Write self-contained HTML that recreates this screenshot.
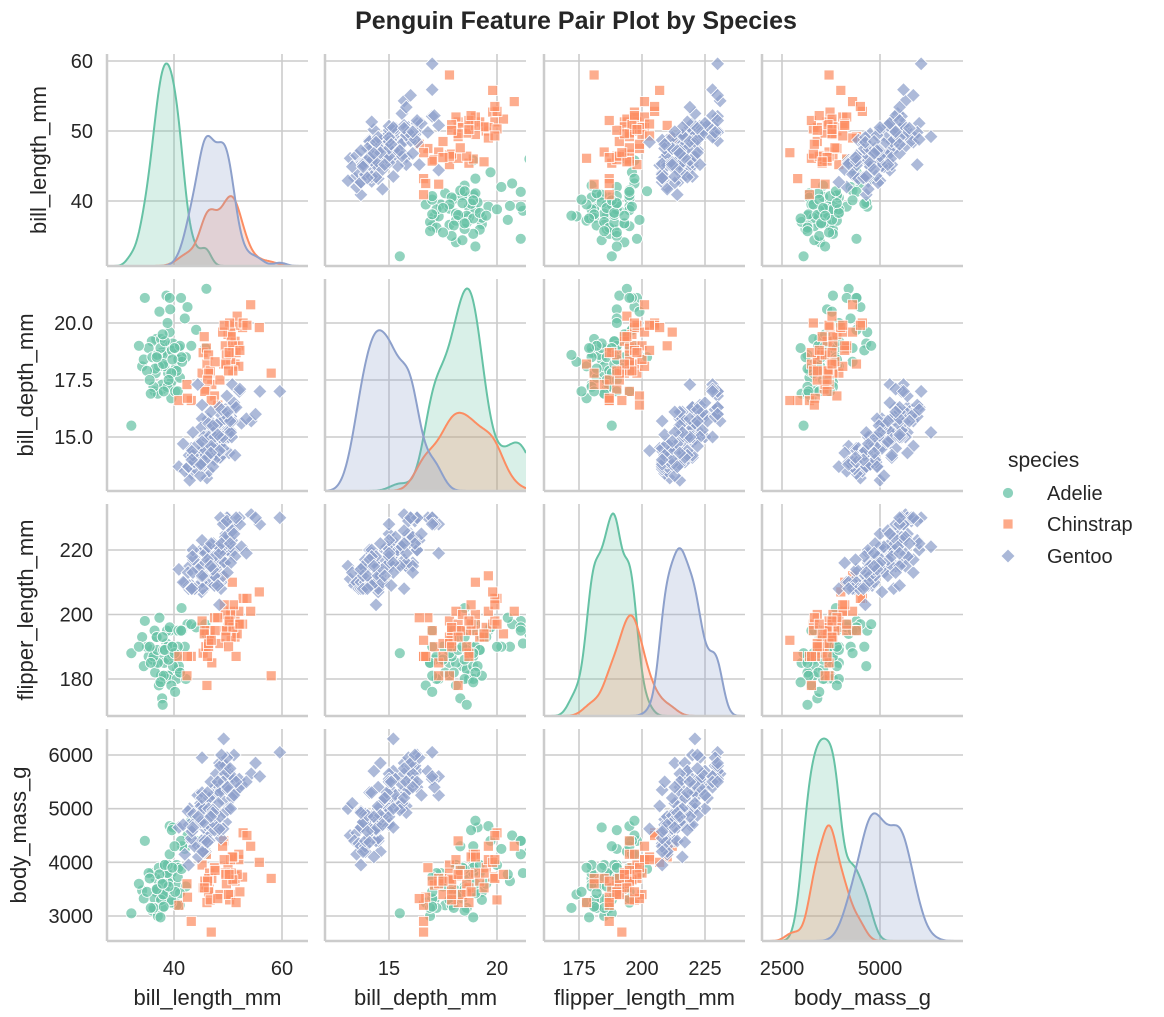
<!DOCTYPE html>
<html><head><meta charset="utf-8"><style>
body{margin:0;background:#fff}
svg{display:block;font-family:"Liberation Sans",sans-serif;fill:#262626}
</style></head><body>
<svg id="chart" width="1164" height="1017" viewBox="0 0 1164 1017" xmlns="http://www.w3.org/2000/svg">
<text x="576" y="29" text-anchor="middle" font-size="25" font-weight="bold">Penguin Feature Pair Plot by Species</text>
<g id="panels"></g>
<g>
<text x="1008" y="467" font-size="21">species</text>
<g><circle cx="1008" cy="493" r="5.5" fill="#66c2a5" fill-opacity="0.75" stroke="#fff" stroke-width="0.8"/><text x="1047" y="500" font-size="20">Adelie</text></g>
<g><rect x="1003" y="519" width="10" height="10" fill="#fc8d62" fill-opacity="0.75" stroke="#fff" stroke-width="0.8"/><text x="1047" y="531" font-size="20">Chinstrap</text></g>
<g><polygon points="1008,549 1015,556 1008,563 1001,556" fill="#8da0cb" fill-opacity="0.75" stroke="#fff" stroke-width="0.8"/><text x="1047" y="563" font-size="20">Gentoo</text></g>
</g>
</svg>
<script>
const variables = ["bill_length_mm","bill_depth_mm","flipper_length_mm","body_mass_g"];
const species = ["Adelie","Chinstrap","Gentoo"];
const speciesCounts = [151,68,123];
const speciesColors = ["#66c2a5","#fc8d62","#8da0cb"];
const tickBL = [40,50,60], tickBLx=[40,60];
const tickBD = [15.0,17.5,20.0], tickBDx=[15,20];
const tickFL = [180,200,220], tickFLx=[175,200,225];
const tickBM = [3000,4000,5000,6000], tickBMx=[2500,5000];
const adelie = [[39.1,18.7,181,3750],[39.5,17.4,186,3800],[40.3,18.0,195,3250],[36.7,19.3,193,3450],[39.3,20.6,190,3650],[38.9,17.8,181,3625],[39.2,19.6,195,4675],[34.1,18.1,193,3475],[42.0,20.2,190,4250],[37.8,17.1,186,3300],[37.8,17.3,180,3700],[41.1,17.6,182,3200],[38.6,21.2,191,3800],[34.6,21.1,198,4400],[36.6,17.8,185,3700],[38.7,19.0,195,3450],[42.5,20.7,197,4500],[34.4,18.4,184,3325],[46.0,21.5,194,4200],[37.8,18.3,174,3400],[37.7,18.7,180,3600],[35.9,19.2,189,3800],[38.2,18.1,185,3950],[38.8,17.2,180,3800],[35.3,18.9,187,3800],[40.6,18.6,183,3550],[40.5,17.9,187,3200],[37.9,18.6,172,3150],[40.5,18.9,180,3950],[39.5,16.7,178,3250],[37.2,18.1,178,3900],[39.5,17.8,188,3300],[40.9,18.9,184,3900],[36.4,17.0,195,3325],[39.2,21.1,196,4150],[38.8,20.0,190,3950],[42.2,18.5,180,3550],[37.6,19.3,181,3300],[39.8,19.1,184,4650],[36.5,18.0,182,3150],[40.8,18.4,195,3900],[36.0,18.5,186,3100],[44.1,19.7,196,4400],[37.0,16.9,185,3000],[39.6,18.8,190,4600],[41.1,19.0,182,3425],[36.2,17.2,187,3150],[40.2,17.0,176,3450],[35.0,17.9,190,3450],[41.5,18.3,195,4300],[32.1,15.5,188,3050],[33.5,19.0,190,3600],[43.2,19.0,197,4775],[35.7,16.9,185,3150],[41.3,21.1,195,4400],[45.8,18.9,197,4150],[38.1,17.0,181,3175],[37.3,20.5,199,3775],[36.9,18.6,189,3500],[40.7,17.0,190,3725],[38.0,18.2,189,3400],[39.0,17.5,186,3550],[37.5,18.9,179,2975],[41.4,18.5,202,3875],[36.8,18.5,193,3500],[38.3,19.2,189,3950],[40.1,18.9,188,4300],[35.5,17.5,190,3700],[39.7,18.4,190,3900],[37.9,19.5,193,3600]];
const chinstrap = [[46.5,17.9,192,3500],[50.0,19.5,196,3900],[51.3,19.2,193,3650],[45.4,18.7,188,3525],[52.7,19.8,197,3725],[45.2,17.8,198,3950],[46.1,18.2,178,3250],[51.3,18.2,197,3750],[46.0,18.9,195,4150],[51.3,19.9,198,3700],[46.6,17.8,193,3800],[51.7,20.3,194,3775],[47.0,17.3,185,3700],[52.0,18.1,201,4050],[45.9,17.1,190,3575],[50.5,19.6,201,4050],[50.3,20.0,197,3300],[58.0,17.8,181,3700],[46.4,18.6,190,3450],[49.2,18.2,195,4400],[42.4,17.3,181,3600],[48.5,17.5,191,3400],[43.2,16.6,187,2900],[50.6,19.4,193,3800],[46.7,17.9,195,3300],[52.0,19.0,197,4150],[50.5,18.4,200,3400],[49.5,19.0,200,3800],[46.4,17.8,191,3700],[52.8,20.0,205,4550],[40.9,16.6,187,3200],[54.2,20.8,201,4300],[42.5,16.7,187,3350],[51.0,18.8,203,4100],[49.7,18.6,195,3600],[47.5,16.8,199,3900],[47.6,18.3,195,3850],[50.9,17.9,196,3675],[49.0,19.6,212,4300],[45.7,17.0,195,3650],[50.8,19.0,210,4100],[53.5,19.9,205,4500],[49.6,18.2,193,3775],[48.1,16.4,199,3325],[46.2,17.5,187,3650],[45.6,19.4,194,3525],[50.1,17.9,190,3400],[51.5,18.7,187,3250],[55.8,19.8,207,4000],[52.2,18.8,197,3450],[49.3,19.9,203,4050],[50.2,18.7,198,3775],[46.9,16.6,192,2700]];
const gentoo = [[46.1,13.2,211,4500],[50.0,16.3,230,5700],[48.7,14.1,210,4450],[50.0,15.2,218,5700],[47.6,14.5,215,5400],[46.5,13.5,210,4550],[45.4,14.6,211,4800],[46.7,15.3,219,5200],[43.3,13.4,209,4400],[46.8,15.4,215,5150],[40.9,13.7,214,4650],[49.0,16.1,216,5550],[45.5,13.7,214,4650],[48.4,14.6,213,5850],[45.8,14.6,210,4200],[49.3,15.7,217,5850],[42.0,13.5,210,4150],[49.2,15.2,221,6300],[46.2,14.5,209,4800],[48.7,15.1,222,5350],[50.2,14.3,218,5700],[45.1,14.5,215,5000],[46.5,14.5,213,4400],[46.3,15.8,215,5050],[42.9,13.1,215,5000],[46.1,15.1,215,5100],[44.5,14.3,216,4100],[47.8,15.0,215,5650],[48.2,14.3,210,4600],[50.0,15.3,220,5550],[47.3,15.3,222,5250],[42.8,14.2,209,4700],[45.1,14.5,207,5050],[59.6,17.0,230,6050],[49.1,14.8,220,5150],[48.4,16.3,220,5400],[42.6,13.7,213,4950],[44.4,17.3,219,5250],[44.0,13.6,208,4350],[48.7,15.7,208,5350],[42.7,13.7,208,3950],[49.6,16.0,225,5700],[45.3,13.7,210,4300],[49.6,15.0,216,4750],[50.5,15.9,222,5550],[43.6,13.9,217,4900],[45.5,13.9,210,4200],[50.5,15.9,225,5400],[44.9,13.3,213,5100],[45.2,15.8,215,5300],[46.6,14.2,210,4850],[48.5,14.1,220,5300],[45.1,14.4,210,4400],[50.1,15.0,225,5000],[46.5,14.8,217,5200],[45.0,15.4,220,5050],[43.8,13.9,208,4300],[45.5,15.0,220,5000],[43.2,14.5,208,4450],[50.4,15.3,224,5550],[45.3,13.8,208,4200],[46.2,14.9,221,5300],[45.7,13.9,214,4400],[54.3,15.7,231,5650],[45.8,14.2,219,4700],[49.8,16.8,230,5700],[49.5,16.2,229,5800],[43.5,14.2,220,4700],[50.7,15.0,223,5550],[47.7,15.0,216,4750],[46.4,15.6,221,5000],[48.2,15.6,221,5100],[46.4,15.0,216,4700],[48.6,16.0,230,5800],[47.5,14.2,209,4600],[51.1,16.3,220,6000],[45.2,13.8,215,4750],[45.2,16.4,223,5950],[49.1,14.5,212,4625],[52.5,15.6,221,5450],[47.4,14.6,212,4725],[50.0,15.9,224,5350],[44.9,13.8,212,4750],[50.8,17.3,228,5600],[43.4,14.4,218,4600],[51.3,14.2,218,5300],[47.5,14.0,212,4875],[52.1,17.0,230,5550],[47.5,15.0,218,4950],[52.2,17.1,228,5400],[45.5,14.5,212,4750],[49.5,16.1,224,5650],[44.5,14.7,214,4850],[50.8,15.7,226,5200],[49.4,15.8,216,4925],[46.9,14.6,222,4875],[48.4,14.4,203,4625],[51.1,16.5,225,5250],[48.5,15.0,219,4850],[55.9,17.0,228,5600],[47.2,15.5,215,4975],[49.1,15.0,228,5500],[46.8,16.1,215,5500],[41.7,14.7,210,4700],[53.4,15.8,219,5500],[43.3,14.0,208,4575],[48.1,15.1,209,5500],[50.5,15.2,216,5000],[49.8,15.9,229,5950],[43.5,15.2,213,4650],[51.5,16.3,230,5500],[46.2,14.1,217,4375],[55.1,16.0,230,5850],[48.8,16.2,222,6000],[47.2,13.7,214,4925],[46.8,14.3,215,4850],[50.4,15.7,222,5750],[45.2,14.8,212,5200],[49.9,16.1,213,5400]];

const groups=[adelie,chinstrap,gentoo];
const NS="http://www.w3.org/2000/svg";
const colL=[107,325,544,762], W=201;
const rowT=[54,279,504,729], H=212;
const xCal=[[40,174,60,282],[15,389,20,497],[175,579,225,705],[2500,782,5000,880]];
const yCal=[[40,201,60,61],[15,437,20,323],[180,679,220,550],[3000,916,6000,755]];
const xTicks=[tickBLx,tickBDx,tickFLx,tickBMx];
const yTicks=[tickBL,tickBD,tickFL,tickBM];
const yFmt=[v=>v,v=>v.toFixed(1),v=>v,v=>v];
function sx(i,v){const c=xCal[i];return c[1]+(v-c[0])*(c[3]-c[1])/(c[2]-c[0]);}
function sy(i,v){const c=yCal[i];return c[1]+(v-c[0])*(c[3]-c[1])/(c[2]-c[0]);}
function inv(i,p){const c=xCal[i];return c[0]+(p-c[1])*(c[2]-c[0])/(c[3]-c[1]);}
function mk(tag,attrs,parent){const e=document.createElementNS(NS,tag);for(const k in attrs)e.setAttribute(k,attrs[k]);parent.appendChild(e);return e;}
const root=document.getElementById('panels');
const defs=mk('defs',{},root);
const total=speciesCounts.reduce((s,g)=>s+g,0);

for(let r=0;r<4;r++)for(let c=0;c<4;c++){
  const x0=colL[c],y0=rowT[r];
  const g=mk('g',{},root);
  
  
  const cp=mk('clipPath',{id:'cp'+r+c},defs);
  mk('rect',{x:x0,y:y0,width:W,height:H},cp);
  xTicks[c].forEach(t=>{const l=mk('line',{x1:sx(c,t),x2:sx(c,t),y1:y0,y2:y0+H,stroke:'#cccccc','stroke-width':1.6},g);
    
    });
  yTicks[r].forEach(t=>{const l=mk('line',{x1:x0,x2:x0+W,y1:sy(r,t),y2:sy(r,t),stroke:'#cccccc','stroke-width':1.6},g);
    
    });
  const data=mk('g',{'clip-path':'url(#cp'+r+c+')'},g);
  if(r===c){
    const dens=groups.map((gr,k)=>{
      const vals=gr.map(d=>d[c]);const n=vals.length;
      const m=vals.reduce((a,b)=>a+b,0)/n;
      const sd=Math.sqrt(vals.reduce((a,b)=>a+(b-m)*(b-m),0)/(n-1));
      const bw=sd*Math.pow(speciesCounts[k],-0.2);
      const pts=[];
      for(let p=x0;p<=x0+W;p+=1){const v=inv(c,p);let s=0;vals.forEach(u=>{const z=(v-u)/bw;s+=Math.exp(-0.5*z*z);});
        pts.push([p,s/(n*bw*Math.sqrt(2*Math.PI))*(speciesCounts[k]/total)]);}
      return pts;});
    let mx=0;dens.forEach(d=>d.forEach(q=>{if(q[1]>mx)mx=q[1];}));
    const base=y0+H, sc=(H*0.955)/mx;
    dens.forEach((d,k)=>{
      const pts=d.map(q=>q[0].toFixed(1)+','+(base-q[1]*sc).toFixed(1));
      const a=mk('path',{d:'M'+x0+','+base+' L'+pts.join(' L')+' L'+(x0+W)+','+base+'Z',fill:speciesColors[k],'fill-opacity':0.25,stroke:'none'},data);
      
      
      const ln=mk('path',{d:'M'+pts.join(' L'),fill:'none',stroke:speciesColors[k],'stroke-width':2},data);
      
      
    });
  } else {
    groups.forEach((gr,k)=>{
      gr.forEach(d=>{
        const px=sx(c,d[c]),py=sy(r,d[r]);let e;
        const st={fill:speciesColors[k],'fill-opacity':0.72,stroke:'#fff','stroke-width':0.8};
        if(k===0){e=mk('circle',Object.assign({cx:px,cy:py,r:5.5},st),data);}
        else if(k===1){e=mk('rect',Object.assign({x:px-5,y:py-5,width:10,height:10},st),data);}
        else {e=mk('polygon',Object.assign({points:`${px},${py-7} ${px+7},${py} ${px},${py+7} ${px-7},${py}`},st),data);}
        
        
      });
    });
  }
  mk('line',{x1:x0,x2:x0,y1:y0,y2:y0+H,stroke:'#cccccc','stroke-width':2.5},g);
  mk('line',{x1:x0,x2:x0+W,y1:y0+H,y2:y0+H,stroke:'#cccccc','stroke-width':2.5},g);
  if(c===0){
    yTicks[r].forEach(t=>{const tx=mk('text',{x:x0-14,y:sy(r,t)+7,'text-anchor':'end','font-size':20},g);tx.textContent=yFmt[r](t);
      
      });
    const lx=[46,33,33,26][r];
    const lab=mk('text',{x:lx,y:y0+H/2,'text-anchor':'middle','font-size':22,transform:`rotate(-90 ${lx} ${y0+H/2})`},g);
    lab.textContent=variables[r];
    
    
  }
  if(r===3){
    xTicks[c].forEach(t=>{const tx=mk('text',{x:sx(c,t),y:y0+H+34,'text-anchor':'middle','font-size':20},g);tx.textContent=t;
      
      });
    const lab=mk('text',{x:x0+W/2,y:1005,'text-anchor':'middle','font-size':22},g);
    lab.textContent=variables[c];
    
    
  }
}
</script>
</body></html>
